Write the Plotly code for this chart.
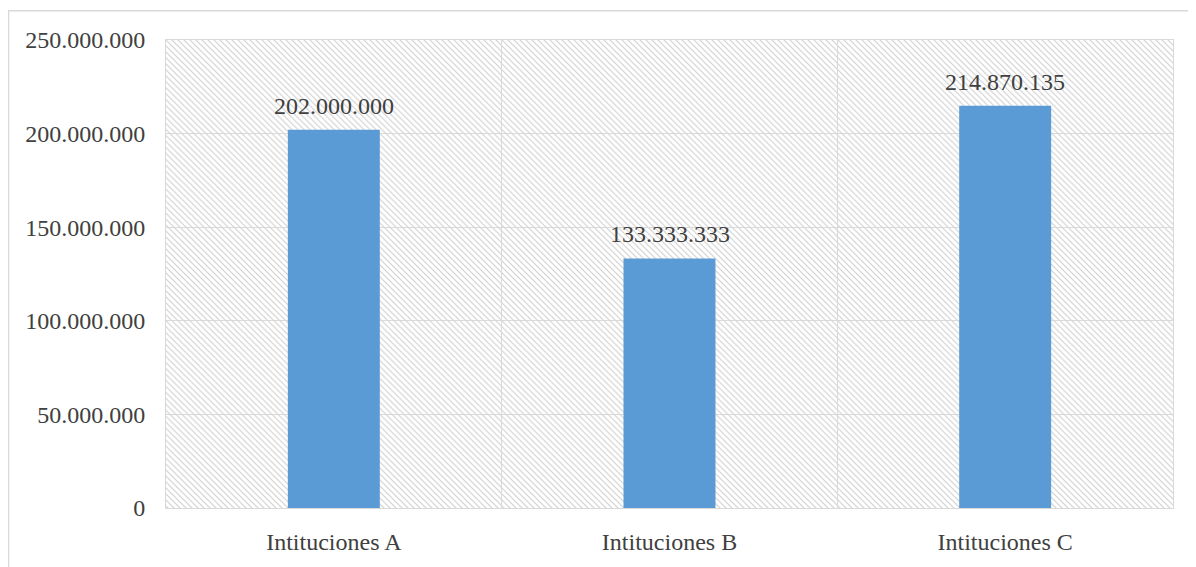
import base64
import plotly.graph_objects as go

categories = ["Intituciones A", "Intituciones B", "Intituciones C"]
values = [202000000, 133333333, 214870135]
y_ticks = [0, 50000000, 100000000, 150000000, 200000000, 250000000]

# the page body adds an 8px margin, so the figure is sized to sit inside it
W, H = 1188, 559
L, R, T, B = 158, 23, 32, 57
pw, ph = W - L - R, H - T - B

# diagonal hatch for the plot background
svg = (
    f'<svg xmlns="http://www.w3.org/2000/svg" width="{pw}" height="{ph}" viewBox="0 0 {pw} {ph}">'
    '<defs><pattern id="h" width="6" height="6" patternUnits="userSpaceOnUse">'
    '<path d="M0,0 L6,6 M-1,5 L1,7 M5,-1 L7,1" stroke="#d2d2d2" stroke-width="1.2"/>'
    '</pattern></defs>'
    f'<rect width="{pw}" height="{ph}" fill="white"/>'
    f'<rect width="{pw}" height="{ph}" fill="url(#h)"/></svg>'
)
hatch = "data:image/svg+xml;base64," + base64.b64encode(svg.encode()).decode()

font = dict(family="Liberation Serif, Times New Roman, serif", size=24, color="#404040")

fig = go.Figure()
fig.add_trace(go.Bar(
    x=categories, y=values,
    marker=dict(color="#5b9bd5", line=dict(width=0)),
))

# value labels, a little higher above the bars than plotly's own outside text
for c, v in zip(categories, values):
    fig.add_annotation(x=c, y=v, text=f"{v:,}".replace(",", "."),
                       showarrow=False, yanchor="bottom", yshift=9, font=font)

fig.update_layout(
    width=W, height=H,
    margin=dict(l=L, r=R, t=T, b=B),
    paper_bgcolor="white",
    plot_bgcolor="rgba(0,0,0,0)",
    separators=",.",
    font=font,
    bargap=0.726,
    showlegend=False,
    images=[dict(source=hatch, xref="paper", yref="paper", x=0, y=1,
                 sizex=1, sizey=1, xanchor="left", yanchor="top",
                 sizing="stretch", layer="below")],
    shapes=[dict(type="rect", xref="paper", yref="paper",
                 x0=(0.5 - L) / pw, x1=(W + 30 - L) / pw,
                 y0=-(B + 30) / ph, y1=(ph + T - 2.5) / ph,
                 line=dict(color="#d9d9d9", width=1.5), fillcolor="rgba(0,0,0,0)",
                 layer="below")],
)
fig.update_xaxes(
    type="category", tickson="boundaries", showgrid=True, gridcolor="#d9d9d9",
    showline=True, linecolor="#d9d9d9", mirror=True,
    ticks="", ticklabelstandoff=12,
)
fig.update_yaxes(
    range=[0, 250000000], tickvals=y_ticks, tickformat=",d",
    showgrid=True, gridcolor="#d9d9d9", zeroline=False,
    showline=True, linecolor="#d9d9d9", mirror=True,
    ticks="", ticklabelstandoff=15,
)

fig.write_html("out.html")
